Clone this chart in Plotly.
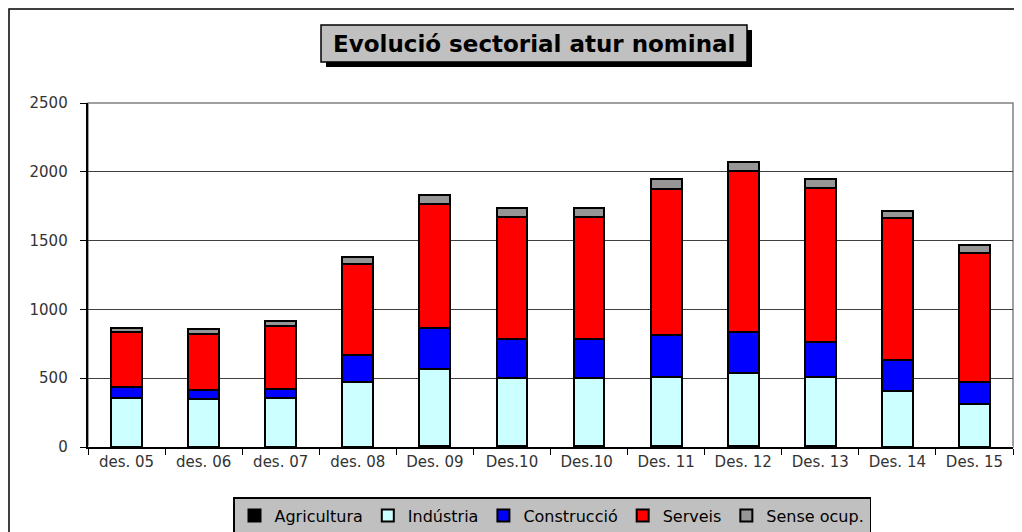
import plotly.graph_objects as go

# categories (second "Des.10" gets a trailing space so the axis keeps both)
categories = ["des. 05", "des. 06", "des. 07", "des. 08", "Des. 09", "Des.10",
              "Des.10 ", "Des. 11", "Des. 12", "Des. 13", "Des. 14", "Des. 15"]

agricultura = [2, 2, 2, 3, 4, 4, 4, 4, 4, 4, 3, 3]
industria = [352, 349, 356, 467, 561, 495, 495, 507, 531, 507, 406, 309]
construccio = [80, 61, 63, 199, 302, 286, 286, 301, 298, 254, 221, 163]
serveis = [400, 411, 456, 661, 899, 887, 887, 1065, 1175, 1120, 1034, 932]
sense_ocup = [33, 34, 39, 48, 65, 62, 62, 71, 63, 63, 51, 61]

series = [
    ("Agricultura", agricultura, "#000000"),
    ("Indústria", industria, "#CCFFFF"),
    ("Construcció", construccio, "#0000FF"),
    ("Serveis", serveis, "#FF0000"),
    ("Sense ocup.", sense_ocup, "#969696"),
]

FONT = "DejaVu Sans"

fig = go.Figure()
for name, vals, col in series:
    fig.add_trace(go.Bar(x=categories, y=vals, name=name,
                         marker=dict(color=col, line=dict(color="black", width=2))))

# the page body adds an 8px margin, so the figure is shrunk by that much
OFF = 8
FW, FH = 1022 - OFF, 532 - OFF
# plot area in screen pixels
L, R, T, B = 88, 1013, 103, 447
W, H = R - L, B - T
def px(x):
    return (x - L) / W
def py(y):
    return (B - y) / H

shapes = [
    # outer chart frame
    dict(type="rect", xref="paper", yref="paper", x0=px(9), x1=px(1200),
         y0=py(9), y1=py(700), line=dict(color="black", width=1.5), layer="below"),
    # plot area border
    dict(type="rect", xref="paper", yref="paper", x0=0, x1=1, y0=0, y1=1,
         line=dict(color="#808080", width=1.5), layer="below"),
    # title shadow and box
    dict(type="rect", xref="paper", yref="paper", x0=px(326), x1=px(752),
         y0=py(67), y1=py(30), fillcolor="black", line=dict(width=0)),
    dict(type="rect", xref="paper", yref="paper", x0=px(321), x1=px(747),
         y0=py(62), y1=py(25), fillcolor="#C0C0C0", line=dict(color="black", width=1.5)),
]

fig.update_layout(
    width=FW, height=FH,
    margin=dict(l=L - OFF, r=1022 - R, t=T - OFF, b=532 - B, autoexpand=False),
    paper_bgcolor="white", plot_bgcolor="white",
    barmode="stack", bargap=0.6,
    font=dict(family=FONT, size=15, color="#333333"),
    shapes=shapes,
    annotations=[dict(text="<b>Evolució sectorial atur nominal</b>", xref="paper", yref="paper",
                      x=px(534), y=py(43.5), showarrow=False, xanchor="center", yanchor="middle",
                      font=dict(family=FONT, size=23, color="black"))],
    legend=dict(orientation="h", x=px(552), xanchor="center", y=py(497), yanchor="top",
                bgcolor="#C0C0C0", bordercolor="black", borderwidth=1.5,
                traceorder="normal", font=dict(family=FONT, size=16, color="black"),
                itemwidth=30),
    showlegend=True,
)
fig.update_xaxes(type="category", showline=True, linecolor="black", linewidth=1.5,
                 ticks="outside", tickson="boundaries", ticklen=6, tickcolor="black",
                 showgrid=False, tickfont=dict(size=15, color="#333333"))
fig.update_yaxes(range=[0, 2500], dtick=500, showline=True, linecolor="black", linewidth=1.5,
                 ticks="outside", ticklen=6, tickcolor="black",
                 showgrid=True, gridcolor="#404040", gridwidth=1,
                 tickfont=dict(size=15, color="#333333"), ticksuffix="  ")

fig.write_html("out.html")
